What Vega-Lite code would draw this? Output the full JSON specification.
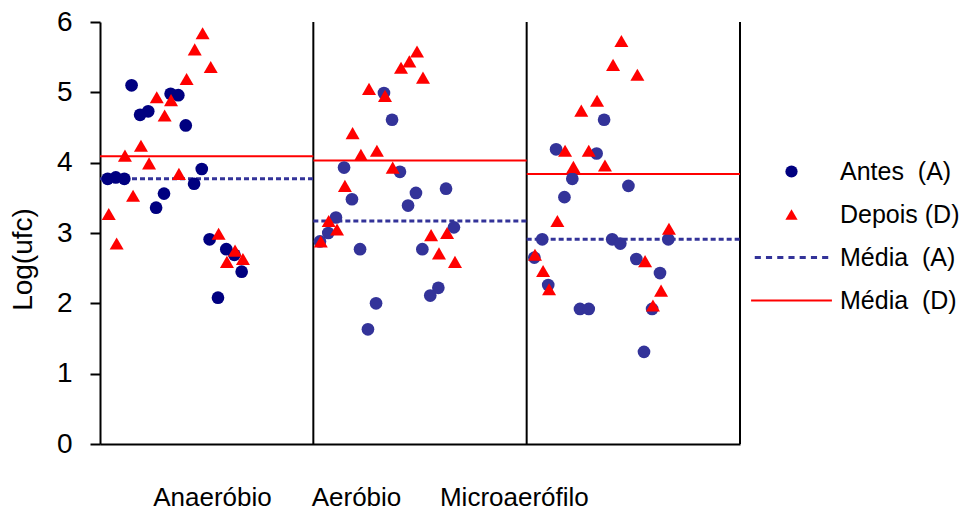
{
  "$schema": "https://vega.github.io/schema/vega-lite/v6.json",
  "width": 640,
  "height": 422,
  "autosize": {"type": "none"},
  "padding": {"left": 100, "top": 22, "right": 224, "bottom": 66},
  "background": "white",
  "config": {"view": {"stroke": null}, "font": "Liberation Sans"},
  "datasets": {
    "pontos": [
      {"grupo": "Anaeróbio", "serie": "Antes\u00a0\u00a0(A)", "x": 0.148, "y": 5.10},
      {"grupo": "Anaeróbio", "serie": "Antes\u00a0\u00a0(A)", "x": 0.331, "y": 4.98},
      {"grupo": "Anaeróbio", "serie": "Antes\u00a0\u00a0(A)", "x": 0.367, "y": 4.96},
      {"grupo": "Anaeróbio", "serie": "Antes\u00a0\u00a0(A)", "x": 0.188, "y": 4.68},
      {"grupo": "Anaeróbio", "serie": "Antes\u00a0\u00a0(A)", "x": 0.226, "y": 4.73},
      {"grupo": "Anaeróbio", "serie": "Antes\u00a0\u00a0(A)", "x": 0.402, "y": 4.53},
      {"grupo": "Anaeróbio", "serie": "Antes\u00a0\u00a0(A)", "x": 0.036, "y": 3.77},
      {"grupo": "Anaeróbio", "serie": "Antes\u00a0\u00a0(A)", "x": 0.074, "y": 3.79},
      {"grupo": "Anaeróbio", "serie": "Antes\u00a0\u00a0(A)", "x": 0.114, "y": 3.77},
      {"grupo": "Anaeróbio", "serie": "Antes\u00a0\u00a0(A)", "x": 0.477, "y": 3.91},
      {"grupo": "Anaeróbio", "serie": "Antes\u00a0\u00a0(A)", "x": 0.441, "y": 3.70},
      {"grupo": "Anaeróbio", "serie": "Antes\u00a0\u00a0(A)", "x": 0.300, "y": 3.56},
      {"grupo": "Anaeróbio", "serie": "Antes\u00a0\u00a0(A)", "x": 0.263, "y": 3.36},
      {"grupo": "Anaeróbio", "serie": "Antes\u00a0\u00a0(A)", "x": 0.514, "y": 2.91},
      {"grupo": "Anaeróbio", "serie": "Antes\u00a0\u00a0(A)", "x": 0.592, "y": 2.77},
      {"grupo": "Anaeróbio", "serie": "Antes\u00a0\u00a0(A)", "x": 0.630, "y": 2.69},
      {"grupo": "Anaeróbio", "serie": "Antes\u00a0\u00a0(A)", "x": 0.664, "y": 2.45},
      {"grupo": "Anaeróbio", "serie": "Antes\u00a0\u00a0(A)", "x": 0.553, "y": 2.08},
      {"grupo": "Anaeróbio", "serie": "Depois\u00a0(D)", "x": 0.481, "y": 5.84},
      {"grupo": "Anaeróbio", "serie": "Depois\u00a0(D)", "x": 0.444, "y": 5.61},
      {"grupo": "Anaeróbio", "serie": "Depois\u00a0(D)", "x": 0.519, "y": 5.36},
      {"grupo": "Anaeróbio", "serie": "Depois\u00a0(D)", "x": 0.406, "y": 5.19},
      {"grupo": "Anaeróbio", "serie": "Depois\u00a0(D)", "x": 0.266, "y": 4.93},
      {"grupo": "Anaeróbio", "serie": "Depois\u00a0(D)", "x": 0.333, "y": 4.89},
      {"grupo": "Anaeróbio", "serie": "Depois\u00a0(D)", "x": 0.303, "y": 4.67},
      {"grupo": "Anaeróbio", "serie": "Depois\u00a0(D)", "x": 0.192, "y": 4.24},
      {"grupo": "Anaeróbio", "serie": "Depois\u00a0(D)", "x": 0.117, "y": 4.10},
      {"grupo": "Anaeróbio", "serie": "Depois\u00a0(D)", "x": 0.230, "y": 3.99},
      {"grupo": "Anaeróbio", "serie": "Depois\u00a0(D)", "x": 0.370, "y": 3.84},
      {"grupo": "Anaeróbio", "serie": "Depois\u00a0(D)", "x": 0.155, "y": 3.53},
      {"grupo": "Anaeróbio", "serie": "Depois\u00a0(D)", "x": 0.041, "y": 3.27},
      {"grupo": "Anaeróbio", "serie": "Depois\u00a0(D)", "x": 0.078, "y": 2.85},
      {"grupo": "Anaeróbio", "serie": "Depois\u00a0(D)", "x": 0.556, "y": 2.99},
      {"grupo": "Anaeróbio", "serie": "Depois\u00a0(D)", "x": 0.633, "y": 2.75},
      {"grupo": "Anaeróbio", "serie": "Depois\u00a0(D)", "x": 0.595, "y": 2.59},
      {"grupo": "Anaeróbio", "serie": "Depois\u00a0(D)", "x": 0.670, "y": 2.63},
      {"grupo": "Aeróbio", "serie": "Antes\u00a0\u00a0(A)", "x": 1.331, "y": 4.99},
      {"grupo": "Aeróbio", "serie": "Antes\u00a0\u00a0(A)", "x": 1.369, "y": 4.61},
      {"grupo": "Aeróbio", "serie": "Antes\u00a0\u00a0(A)", "x": 1.144, "y": 3.93},
      {"grupo": "Aeróbio", "serie": "Antes\u00a0\u00a0(A)", "x": 1.406, "y": 3.87},
      {"grupo": "Aeróbio", "serie": "Antes\u00a0\u00a0(A)", "x": 1.481, "y": 3.57},
      {"grupo": "Aeróbio", "serie": "Antes\u00a0\u00a0(A)", "x": 1.622, "y": 3.63},
      {"grupo": "Aeróbio", "serie": "Antes\u00a0\u00a0(A)", "x": 1.444, "y": 3.39},
      {"grupo": "Aeróbio", "serie": "Antes\u00a0\u00a0(A)", "x": 1.181, "y": 3.48},
      {"grupo": "Aeróbio", "serie": "Antes\u00a0\u00a0(A)", "x": 1.106, "y": 3.22},
      {"grupo": "Aeróbio", "serie": "Antes\u00a0\u00a0(A)", "x": 1.070, "y": 3.00},
      {"grupo": "Aeróbio", "serie": "Antes\u00a0\u00a0(A)", "x": 1.031, "y": 2.88},
      {"grupo": "Aeróbio", "serie": "Antes\u00a0\u00a0(A)", "x": 1.659, "y": 3.08},
      {"grupo": "Aeróbio", "serie": "Antes\u00a0\u00a0(A)", "x": 1.219, "y": 2.77},
      {"grupo": "Aeróbio", "serie": "Antes\u00a0\u00a0(A)", "x": 1.511, "y": 2.77},
      {"grupo": "Aeróbio", "serie": "Antes\u00a0\u00a0(A)", "x": 1.586, "y": 2.22},
      {"grupo": "Aeróbio", "serie": "Antes\u00a0\u00a0(A)", "x": 1.548, "y": 2.11},
      {"grupo": "Aeróbio", "serie": "Antes\u00a0\u00a0(A)", "x": 1.294, "y": 2.00},
      {"grupo": "Aeróbio", "serie": "Antes\u00a0\u00a0(A)", "x": 1.256, "y": 1.63},
      {"grupo": "Aeróbio", "serie": "Depois\u00a0(D)", "x": 1.486, "y": 5.58},
      {"grupo": "Aeróbio", "serie": "Depois\u00a0(D)", "x": 1.450, "y": 5.44},
      {"grupo": "Aeróbio", "serie": "Depois\u00a0(D)", "x": 1.411, "y": 5.35},
      {"grupo": "Aeróbio", "serie": "Depois\u00a0(D)", "x": 1.514, "y": 5.21},
      {"grupo": "Aeróbio", "serie": "Depois\u00a0(D)", "x": 1.261, "y": 5.05},
      {"grupo": "Aeróbio", "serie": "Depois\u00a0(D)", "x": 1.336, "y": 4.95},
      {"grupo": "Aeróbio", "serie": "Depois\u00a0(D)", "x": 1.184, "y": 4.42},
      {"grupo": "Aeróbio", "serie": "Depois\u00a0(D)", "x": 1.298, "y": 4.17},
      {"grupo": "Aeróbio", "serie": "Depois\u00a0(D)", "x": 1.223, "y": 4.11},
      {"grupo": "Aeróbio", "serie": "Depois\u00a0(D)", "x": 1.372, "y": 3.93},
      {"grupo": "Aeróbio", "serie": "Depois\u00a0(D)", "x": 1.148, "y": 3.67},
      {"grupo": "Aeróbio", "serie": "Depois\u00a0(D)", "x": 1.072, "y": 3.17},
      {"grupo": "Aeróbio", "serie": "Depois\u00a0(D)", "x": 1.111, "y": 3.05},
      {"grupo": "Aeróbio", "serie": "Depois\u00a0(D)", "x": 1.035, "y": 2.88},
      {"grupo": "Aeróbio", "serie": "Depois\u00a0(D)", "x": 1.552, "y": 2.97},
      {"grupo": "Aeróbio", "serie": "Depois\u00a0(D)", "x": 1.627, "y": 3.00},
      {"grupo": "Aeróbio", "serie": "Depois\u00a0(D)", "x": 1.589, "y": 2.71},
      {"grupo": "Aeróbio", "serie": "Depois\u00a0(D)", "x": 1.664, "y": 2.59},
      {"grupo": "Microaerófilo", "serie": "Antes\u00a0\u00a0(A)", "x": 2.363, "y": 4.61},
      {"grupo": "Microaerófilo", "serie": "Antes\u00a0\u00a0(A)", "x": 2.138, "y": 4.19},
      {"grupo": "Microaerófilo", "serie": "Antes\u00a0\u00a0(A)", "x": 2.328, "y": 4.13},
      {"grupo": "Microaerófilo", "serie": "Antes\u00a0\u00a0(A)", "x": 2.214, "y": 3.77},
      {"grupo": "Microaerófilo", "serie": "Antes\u00a0\u00a0(A)", "x": 2.477, "y": 3.67},
      {"grupo": "Microaerófilo", "serie": "Antes\u00a0\u00a0(A)", "x": 2.177, "y": 3.51},
      {"grupo": "Microaerófilo", "serie": "Antes\u00a0\u00a0(A)", "x": 2.073, "y": 2.91},
      {"grupo": "Microaerófilo", "serie": "Antes\u00a0\u00a0(A)", "x": 2.401, "y": 2.91},
      {"grupo": "Microaerófilo", "serie": "Antes\u00a0\u00a0(A)", "x": 2.439, "y": 2.85},
      {"grupo": "Microaerófilo", "serie": "Antes\u00a0\u00a0(A)", "x": 2.664, "y": 2.91},
      {"grupo": "Microaerófilo", "serie": "Antes\u00a0\u00a0(A)", "x": 2.036, "y": 2.65},
      {"grupo": "Microaerófilo", "serie": "Antes\u00a0\u00a0(A)", "x": 2.514, "y": 2.63},
      {"grupo": "Microaerófilo", "serie": "Antes\u00a0\u00a0(A)", "x": 2.625, "y": 2.43},
      {"grupo": "Microaerófilo", "serie": "Antes\u00a0\u00a0(A)", "x": 2.101, "y": 2.26},
      {"grupo": "Microaerófilo", "serie": "Antes\u00a0\u00a0(A)", "x": 2.250, "y": 1.92},
      {"grupo": "Microaerófilo", "serie": "Antes\u00a0\u00a0(A)", "x": 2.291, "y": 1.92},
      {"grupo": "Microaerófilo", "serie": "Antes\u00a0\u00a0(A)", "x": 2.588, "y": 1.92},
      {"grupo": "Microaerófilo", "serie": "Antes\u00a0\u00a0(A)", "x": 2.550, "y": 1.31},
      {"grupo": "Microaerófilo", "serie": "Depois\u00a0(D)", "x": 2.444, "y": 5.73},
      {"grupo": "Microaerófilo", "serie": "Depois\u00a0(D)", "x": 2.405, "y": 5.39},
      {"grupo": "Microaerófilo", "serie": "Depois\u00a0(D)", "x": 2.519, "y": 5.25},
      {"grupo": "Microaerófilo", "serie": "Depois\u00a0(D)", "x": 2.330, "y": 4.88},
      {"grupo": "Microaerófilo", "serie": "Depois\u00a0(D)", "x": 2.256, "y": 4.74},
      {"grupo": "Microaerófilo", "serie": "Depois\u00a0(D)", "x": 2.180, "y": 4.17},
      {"grupo": "Microaerófilo", "serie": "Depois\u00a0(D)", "x": 2.291, "y": 4.17},
      {"grupo": "Microaerófilo", "serie": "Depois\u00a0(D)", "x": 2.219, "y": 3.94},
      {"grupo": "Microaerófilo", "serie": "Depois\u00a0(D)", "x": 2.367, "y": 3.96},
      {"grupo": "Microaerófilo", "serie": "Depois\u00a0(D)", "x": 2.144, "y": 3.17},
      {"grupo": "Microaerófilo", "serie": "Depois\u00a0(D)", "x": 2.667, "y": 3.06},
      {"grupo": "Microaerófilo", "serie": "Depois\u00a0(D)", "x": 2.039, "y": 2.69},
      {"grupo": "Microaerófilo", "serie": "Depois\u00a0(D)", "x": 2.077, "y": 2.46},
      {"grupo": "Microaerófilo", "serie": "Depois\u00a0(D)", "x": 2.105, "y": 2.20},
      {"grupo": "Microaerófilo", "serie": "Depois\u00a0(D)", "x": 2.555, "y": 2.60},
      {"grupo": "Microaerófilo", "serie": "Depois\u00a0(D)", "x": 2.630, "y": 2.18},
      {"grupo": "Microaerófilo", "serie": "Depois\u00a0(D)", "x": 2.592, "y": 1.97}
    ],
    "medias": [
      {"grupo": "Anaeróbio", "serie": "Média\u00a0\u00a0(A)", "inicio": 0, "fim": 1, "y": 3.77},
      {"grupo": "Anaeróbio", "serie": "Média\u00a0\u00a0(D)", "inicio": 0, "fim": 1, "y": 4.09},
      {"grupo": "Aeróbio", "serie": "Média\u00a0\u00a0(A)", "inicio": 1, "fim": 2, "y": 3.17},
      {"grupo": "Aeróbio", "serie": "Média\u00a0\u00a0(D)", "inicio": 1, "fim": 2, "y": 4.03},
      {"grupo": "Microaerófilo", "serie": "Média\u00a0\u00a0(A)", "inicio": 2, "fim": 3, "y": 2.91},
      {"grupo": "Microaerófilo", "serie": "Média\u00a0\u00a0(D)", "inicio": 2, "fim": 3, "y": 3.84}
    ],
    "divisorias": [{"limite": 1}, {"limite": 2}, {"limite": 3}]
  },
  "layer": [
    {
      "data": {"name": "divisorias"},
      "mark": {"type": "rule", "color": "black", "strokeWidth": 2},
      "encoding": {
        "x": {"field": "limite", "type": "quantitative"}
      }
    },
    {
      "data": {"name": "medias"},
      "transform": [{"filter": "indexof(datum.serie, '(A)') >= 0"}],
      "mark": {"type": "rule", "strokeWidth": 3, "strokeDash": [5, 3]},
      "encoding": {
        "x": {"field": "inicio", "type": "quantitative"},
        "x2": {"field": "fim"},
        "y": {"field": "y", "type": "quantitative"},
        "color": {"field": "serie", "type": "nominal"}
      }
    },
    {
      "data": {"name": "medias"},
      "transform": [{"filter": "indexof(datum.serie, '(D)') >= 0"}],
      "mark": {"type": "rule", "strokeWidth": 2},
      "encoding": {
        "x": {"field": "inicio", "type": "quantitative"},
        "x2": {"field": "fim"},
        "y": {"field": "y", "type": "quantitative"},
        "color": {"field": "serie", "type": "nominal"}
      }
    },
    {
      "data": {"name": "pontos"},
      "transform": [{"filter": "datum.grupo == 'Anaeróbio' && indexof(datum.serie, 'Antes') >= 0"}],
      "mark": {"type": "point", "filled": true, "opacity": 1, "size": 161, "strokeWidth": 0},
      "encoding": {
        "x": {
          "field": "x", "type": "quantitative",
          "scale": {"domain": [0, 3], "nice": false, "zero": false},
          "axis": {
            "orient": "bottom",
            "values": [0.525, 1.2, 1.94],
            "labelExpr": "datum.value < 1 ? 'Anaeróbio' : (datum.value < 1.6 ? 'Aeróbio' : 'Microaerófilo')",
            "ticks": false, "grid": false, "title": null, "domain": true,
            "domainColor": "black", "domainWidth": 2,
            "labelFontSize": 26, "labelColor": "black", "labelLimit": 400,
            "labelPadding": 40, "labelBaseline": "top",
            "labelAlign": "center", "labelFlush": false, "labelOverlap": false
          }
        },
        "y": {
          "field": "y", "type": "quantitative",
          "scale": {"domain": [0, 6], "nice": false, "zero": true},
          "axis": {
            "orient": "left",
            "values": [0, 1, 2, 3, 4, 5, 6], "format": "d",
            "grid": false, "tickSize": 10, "tickWidth": 2, "tickColor": "black",
            "domainColor": "black", "domainWidth": 2,
            "labelFontSize": 28, "labelColor": "black", "labelPadding": 18,
            "title": "Log(ufc)", "titleFontSize": 28, "titleFontWeight": "normal",
            "titleColor": "black", "titleAngle": 270, "titleX": -77, "titleY": 237,
            "titleBaseline": "middle", "titleAlign": "center"
          }
        },
        "color": {
          "field": "serie", "type": "nominal",
          "scale": {
            "domain": ["Antes\u00a0\u00a0(A)", "Depois\u00a0(D)", "Média\u00a0\u00a0(A)", "Média\u00a0\u00a0(D)"],
            "range": ["#000080", "#ff0000", "#333399", "#ff0000"]
          },
          "legend": {
            "orient": "none", "legendX": 679, "legendY": 137, "direction": "vertical",
            "title": null, "symbolSize": 150, "symbolOpacity": 1, "symbolStrokeWidth": 0,
            "labelFontSize": 25, "labelColor": "black", "labelOffset": 36,
            "rowPadding": 17, "padding": 0, "labelLimit": 300
          }
        },
        "shape": {
          "field": "serie", "type": "nominal",
          "scale": {
            "domain": ["Antes\u00a0\u00a0(A)", "Depois\u00a0(D)", "Média\u00a0\u00a0(A)", "Média\u00a0\u00a0(D)"],
            "range": ["circle", "triangle-up",
              "M-6,-0.25H-5V0.25H-6ZM-4.17,-0.25H-3.17V0.25H-4.17ZM-2.33,-0.25H-1.33V0.25H-2.33ZM-0.5,-0.25H0.5V0.25H-0.5ZM1.33,-0.25H2.33V0.25H1.33ZM3.17,-0.25H4.17V0.25H3.17ZM5,-0.25H6V0.25H5Z",
              "M-6.6,-0.16H6.6V0.16H-6.6Z"]
          }
        }
      }
    },
    {
      "data": {"name": "pontos"},
      "transform": [{"filter": "datum.grupo != 'Anaeróbio' && indexof(datum.serie, 'Antes') >= 0"}],
      "mark": {"type": "point", "filled": true, "opacity": 1, "size": 161, "strokeWidth": 0, "shape": "circle", "color": "#333399"},
      "encoding": {
        "x": {"field": "x", "type": "quantitative"},
        "y": {"field": "y", "type": "quantitative"}
      }
    },
    {
      "data": {"name": "pontos"},
      "transform": [{"filter": "indexof(datum.serie, 'Depois') >= 0"}],
      "mark": {"type": "point", "filled": true, "opacity": 1, "size": 196, "strokeWidth": 0},
      "encoding": {
        "x": {"field": "x", "type": "quantitative"},
        "y": {"field": "y", "type": "quantitative"},
        "color": {"field": "serie", "type": "nominal"},
        "shape": {"field": "serie", "type": "nominal"}
      }
    }
  ]
}
